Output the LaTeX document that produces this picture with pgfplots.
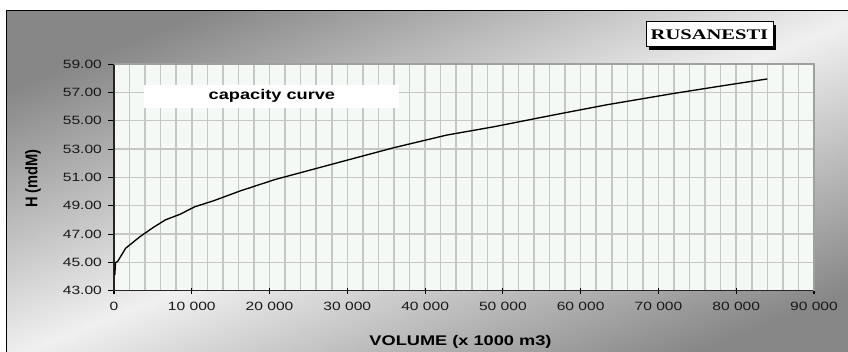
\documentclass[border=0pt]{standalone}
\usepackage{pgfplots}
\pgfplotsset{compat=1.18}
\usepackage{fontspec}
\setmainfont{Liberation Sans}
\newfontfamily\tnr{Liberation Serif}
\definecolor{bgdark}{RGB}{135,135,135}
\definecolor{bglight}{RGB}{240,240,240}
\definecolor{plotbg}{RGB}{244,249,245}
\definecolor{gridc}{RGB}{198,198,198}
\definecolor{bordc}{RGB}{160,160,160}
\begin{document}
\begin{tikzpicture}
\useasboundingbox (0,0) rectangle (636pt,263.25pt);
\fill[white] (0,0) rectangle (636pt,263.25pt);
\begin{scope}
\clip (0,0) rectangle (636pt,263.25pt);
\shade[top color=bgdark, bottom color=bgdark, middle color=bglight, shading angle=21.8] (5pt,-10pt) rectangle (650pt,255.5pt);
\draw[black, line width=1.2pt] (5pt,-10pt) rectangle (650pt,255.5pt);
\end{scope}
\begin{axis}[
  at={(85.5pt,45.2pt)}, anchor=south west,
  scale only axis, width=525pt, height=170pt,
  xmin=0, xmax=90000, ymin=43, ymax=59,
  clip=false,
  axis background/.style={fill=plotbg},
  axis lines=left,
  axis line style={-, line width=1.1pt, black!85},
  xtick={0,10000,...,90000},
  xticklabels={0,10 000,20 000,30 000,40 000,50 000,60 000,70 000,80 000,90 000},
  ytick={43,45,...,59},
  yticklabels={43.00,45.00,47.00,49.00,51.00,53.00,55.00,57.00,59.00},
  minor xtick={2000,4000,...,88000},
  grid=both,
  major grid style={gridc, line width=1.1pt},
  minor grid style={gridc, line width=1.1pt},
  minor tick length=0pt,
  xtick align=center, ytick align=outside,
  major tick length=4.5pt,
  tick style={black, line width=0.8pt},
  tick label style={font=\fontsize{9}{10}\selectfont, xscale=1.3, text=black!90},
  xticklabel style={yshift=-2.5pt},
  scaled x ticks=false,
  xlabel={VOLUME (x 1000 m3)},
  xlabel style={at={(axis description cs:0.495,-0.225)}, anchor=center, font=\bfseries\fontsize{10.5}{12}\selectfont, xscale=1.3},
  ylabel={H (mdM)},
  ylabel style={at={(axis description cs:-0.1157,0.495)}, anchor=center, font=\bfseries\fontsize{11}{12}\selectfont, yscale=1.15},
]
\fill[white] (axis cs:3900,55.89) rectangle (axis cs:36700,57.52);
\node[font=\bfseries\fontsize{10.5}{12}\selectfont, xscale=1.3] at (axis cs:20300,56.72) {capacity curve};
\addplot[black, line width=1pt, no markers] coordinates {
(100,44.1) (200,45.0) (450,45.05) (1500,46.0) (3300,46.8) (5000,47.45) (6600,48.0)
(8500,48.4) (10400,48.93) (12800,49.35) (16200,50.04) (20700,50.85) (30000,52.22)
(36000,53.1) (42800,53.99) (48800,54.57) (54800,55.22) (57400,55.5) (63400,56.13)
(72000,56.93) (78850,57.52) (84000,57.95)
};
\draw[bordc, line width=1.1pt] (rel axis cs:0,1) -- (rel axis cs:1,1) -- (rel axis cs:1,0);
\end{axis}
\fill[black] (486.75pt,225.75pt) rectangle (582pt,244.5pt);
\draw[black, fill=white, line width=0.75pt] (484.5pt,228pt) rectangle (579.75pt,246.75pt);
\node[font=\tnr\bfseries\fontsize{11}{12}\selectfont, xscale=1.4] at (532.1pt,237.4pt) {RUSANESTI};
\end{tikzpicture}
\end{document}
